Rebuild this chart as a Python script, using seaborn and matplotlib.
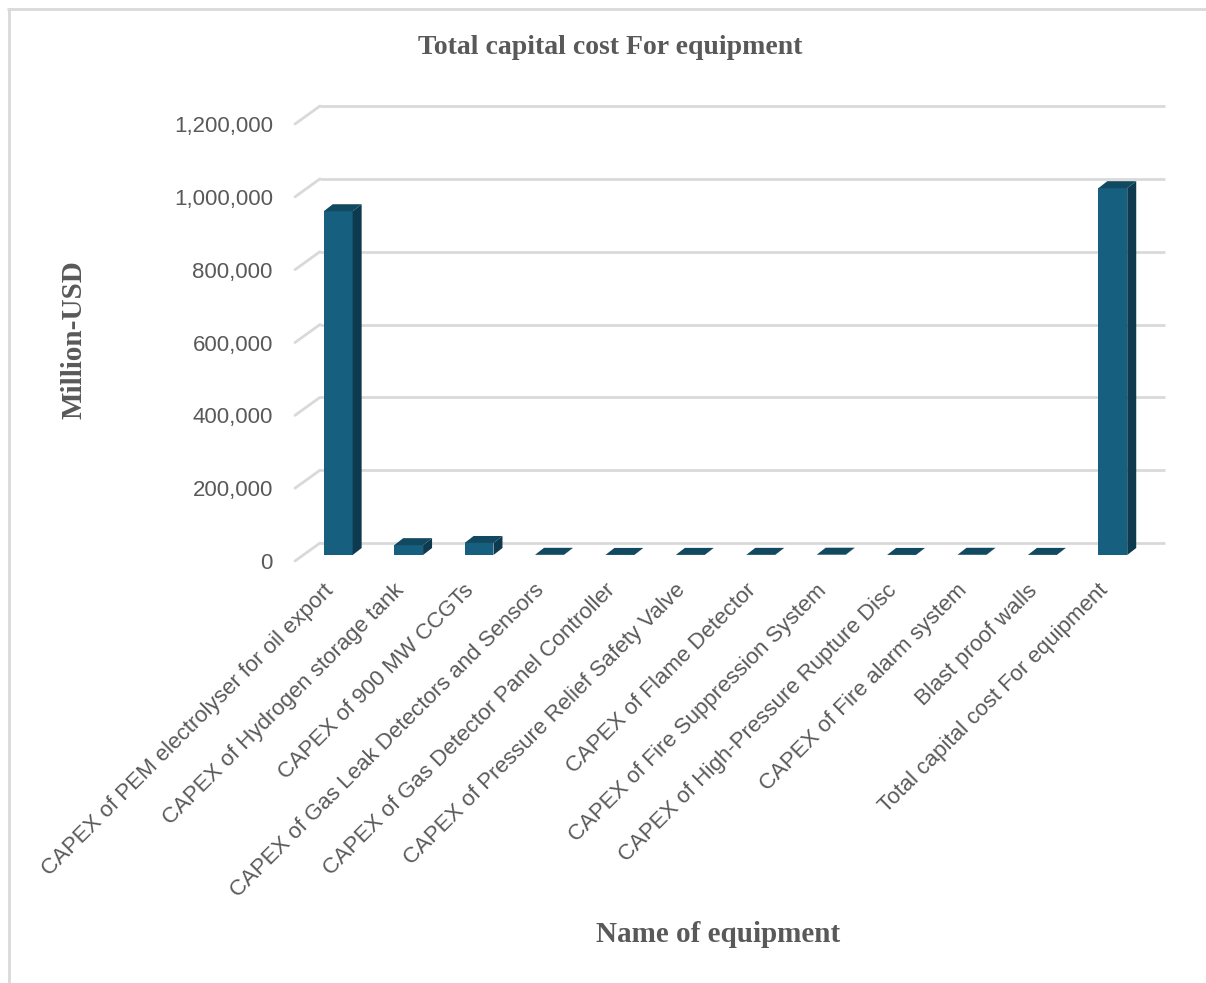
import matplotlib
matplotlib.use("Agg")
import matplotlib.pyplot as plt
import matplotlib.transforms as mtransforms
from matplotlib.patches import Polygon
from matplotlib.lines import Line2D
import seaborn as sns
import pandas as pd

# Equipment categories and capital cost (Million-USD)
equipment = [
    "CAPEX of PEM electrolyser for oil export",
    "CAPEX of Hydrogen storage tank",
    "CAPEX of 900 MW CCGTs",
    "CAPEX of Gas Leak Detectors and Sensors",
    "CAPEX of Gas Detector Panel Controller",
    "CAPEX of Pressure Relief Safety Valve",
    "CAPEX of Flame Detector",
    "CAPEX of Fire Suppression System",
    "CAPEX of High-Pressure Rupture Disc",
    "CAPEX of Fire alarm system",
    "Blast proof walls",
    "Total capital cost For equipment",
]
cost = [944000, 27000, 33000, 500, 200, 300, 400, 800, 200, 600, 300, 1007300]
y_ticks = [0, 200000, 400000, 600000, 800000, 1000000, 1200000]

df = pd.DataFrame({"equipment": equipment, "cost": cost})

sns.set_theme(style="white")
plt.rcParams["font.family"] = ["Liberation Sans", "DejaVu Sans"]

W, H, DPI = 1206, 983, 100
fig = plt.figure(figsize=(W / DPI, H / DPI), dpi=DPI)

# floor front edge of the plot area in pixels
left_px, right_px, bottom_px, top_px = 295, 1140, 561, 124
ax = fig.add_axes([left_px / W, 1 - bottom_px / H,
                   (right_px - left_px) / W, (bottom_px - top_px) / H])

front_col = "#175F7E"
side_col = "#0D3A4E"
top_col = "#114960"
grid_col = "#D9D9D9"
text_col = "#595959"

sns.barplot(data=df, x="equipment", y="cost", color=front_col,
            saturation=1, width=0.41, ax=ax, zorder=3)
ax.set_xlim(-0.5, len(equipment) - 0.5)
ax.set_ylim(0, y_ticks[-1])

ax_w_px = right_px - left_px
ax_h_px = bottom_px - top_px
x_per_px = len(equipment) / ax_w_px
y_per_px = y_ticks[-1] / ax_h_px

# back wall gridlines and floor-side diagonals
wall_dx, wall_dy = 25, 18
for v in y_ticks:
    ax.plot([wall_dx / ax_w_px, 1 + wall_dx / ax_w_px],
            [v + wall_dy * y_per_px] * 2,
            transform=ax.get_yaxis_transform(), color=grid_col, lw=2,
            clip_on=False, zorder=1, solid_capstyle="butt")
    ax.plot([0, wall_dx / ax_w_px], [v, v + wall_dy * y_per_px],
            transform=ax.get_yaxis_transform(), color=grid_col, lw=2,
            clip_on=False, zorder=1)

# 3D column faces: bars sit mid-depth on the floor
shift = mtransforms.ScaledTranslation(8 / DPI, 6 / DPI, fig.dpi_scale_trans)
ddx, ddy = 9 * x_per_px, 7 * y_per_px
for p in ax.patches[:]:
    x0, y0 = p.get_x(), p.get_y()
    w, h = p.get_width(), p.get_height()
    x1, y1 = x0 + w, y0 + h
    p.set_transform(ax.transData + shift)
    p.set_edgecolor("none")
    p.set_clip_on(False)
    side = Polygon([(x1, y0), (x1, y1), (x1 + ddx, y1 + ddy), (x1 + ddx, y0 + ddy)],
                   closed=True, facecolor=side_col, edgecolor="none",
                   transform=ax.transData + shift, zorder=3, clip_on=False)
    top = Polygon([(x0, y1), (x1, y1), (x1 + ddx, y1 + ddy), (x0 + ddx, y1 + ddy)],
                  closed=True, facecolor=top_col, edgecolor="none",
                  transform=ax.transData + shift, zorder=3, clip_on=False)
    ax.add_patch(side)
    ax.add_patch(top)

for s in ax.spines.values():
    s.set_visible(False)
ax.grid(False)
ax.set_yticks(y_ticks)
ax.set_yticklabels([f"{v:,}" for v in y_ticks])
ax.tick_params(axis="y", length=0, pad=16, labelsize=16, labelcolor=text_col)
ax.tick_params(axis="x", length=0, pad=19, labelsize=16, labelcolor=text_col)
for lab in ax.get_xticklabels():
    lab.set_rotation(45)
    lab.set_ha("right")
    lab.set_va("center")
    lab.set_rotation_mode("anchor")
ax.set_xlabel("")
ax.set_ylabel("")

serif = ["Liberation Serif", "DejaVu Serif"]
fig.text(610 / W, 1 - 48 / H, "Total capital cost For equipment", ha="center",
         va="center", fontsize=20, fontweight="bold", color=text_col, family=serif)
fig.text(718 / W, 1 - 934 / H, "Name of equipment", ha="center", va="center",
         fontsize=21, fontweight="bold", color=text_col, family=serif)
fig.text(74 / W, 1 - 340 / H, "Million-USD", ha="center", va="center",
         rotation=90, fontsize=21, fontweight="bold", color=text_col, family=serif)

# chart frame
fig.add_artist(Line2D([8 / W, 1], [1 - 9 / H] * 2, transform=fig.transFigure,
                      color=grid_col, lw=2))
fig.add_artist(Line2D([9 / W] * 2, [0, 1 - 9 / H], transform=fig.transFigure,
                      color=grid_col, lw=2))

fig.savefig("out.png", dpi=DPI)
